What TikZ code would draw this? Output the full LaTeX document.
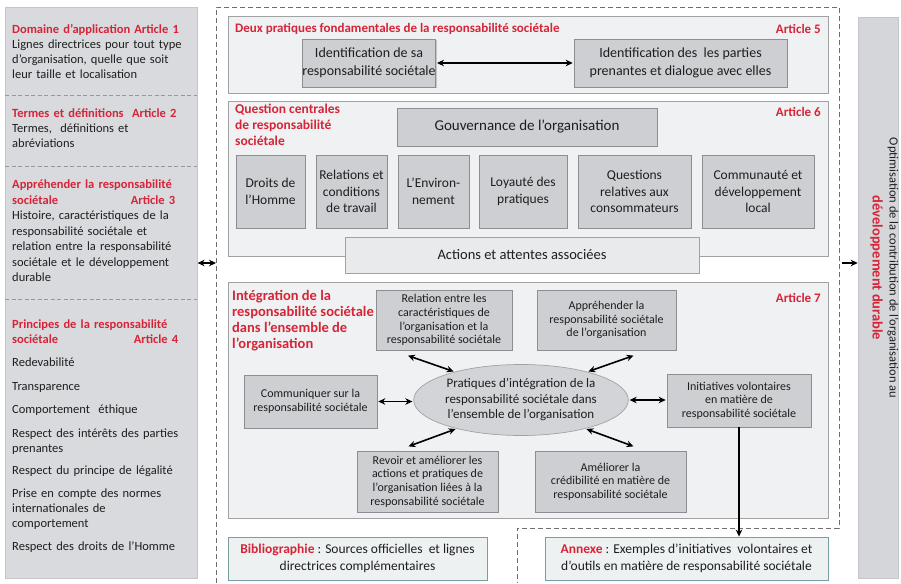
\documentclass[tikz,border=0pt]{standalone}
\usepackage{fontspec}
\setmainfont{Carlito}
\usetikzlibrary{arrows.meta,shapes.geometric,shadows}
\definecolor{isored}{RGB}{214,36,56}
\definecolor{lpfill}{RGB}{216,218,221}
\definecolor{lpline}{RGB}{196,198,201}
\definecolor{secfill}{RGB}{240,241,242}
\definecolor{secline}{RGB}{160,162,164}
\definecolor{boxfill}{RGB}{205,207,210}
\definecolor{boxline}{RGB}{140,142,145}
\definecolor{ellfill}{RGB}{210,212,215}
\definecolor{tealline}{RGB}{118,160,160}
\definecolor{reffill}{RGB}{238,241,241}
\definecolor{framegray}{RGB}{110,110,110}
\definecolor{sepgray}{RGB}{150,152,155}
\definecolor{barfill}{RGB}{212,214,217}
\definecolor{txt}{RGB}{30,30,30}
\tikzset{
  every node/.style={inner sep=0pt, text=txt},
  lpanel/.style={draw=lpline, fill=lpfill, line width=0.6pt},
  sect/.style={draw=secline, fill=secfill, line width=0.8pt},
  gbox/.style={draw=boxline, fill=boxfill, line width=0.6pt, align=center,
    drop shadow={shadow xshift=1.2pt, shadow yshift=-1.2pt, opacity=0.18, fill=black}},
  lbox/.style={draw=secline, fill=secfill!80!boxfill, line width=0.7pt, align=center},
  refbox/.style={draw=tealline, fill=reffill, line width=0.9pt, align=center},
  ttl/.style={text=isored, font=\bfseries\fontsize{13}{16}\selectfont},
  lefttext/.style={anchor=north west, text width=180pt, align=left,
    font=\fontsize{12.5}{15}\selectfont},
  sepline/.style={draw=sepgray, dash pattern=on 4pt off 2.5pt, line width=0.7pt},
  frameline/.style={draw=framegray, dash pattern=on 5pt off 3pt, line width=0.8pt},
  tip/.tip={Stealth[length=7pt,width=6.5pt]},
  dbl/.style={tip-tip, line width=1.6pt, shorten >=1pt, shorten <=1pt},
  sgl/.style={-tip, line width=1.6pt},
  fA/.style={font=\fontsize{14}{18}\selectfont},
  fB/.style={font=\fontsize{13.5}{16.5}\selectfont},
  fC/.style={font=\fontsize{12}{13.6}\selectfont},
}
\begin{document}
\begin{tikzpicture}[x=1pt,y=-1pt]
\useasboundingbox (0,0) rectangle (901,583);
\fill[white] (0,0) rectangle (901,583);

% ---------- left column: articles 1 to 4 ----------
\node[lpanel, anchor=north west, minimum width=192pt, minimum height=571pt] (lp) at (5,7) {};
\draw[sepline] (5,95) -- (197,95);
\draw[sepline] (5,166) -- (197,166);
\draw[sepline] (5,299) -- (197,299);

\node[lefttext] (art1) at (12,24) {\textcolor{isored}{\bfseries Domaine d’application Article 1}\\
Lignes directrices pour tout type\\ d’organisation, quelle que soit\\ leur taille et localisation};
\node[lefttext] (art2) at (12,109) {\textcolor{isored}{\bfseries Termes et définitions\ \ Article 2}\\
Termes,\ \ définitions et\\ abréviations};
\node[lefttext, font=\fontsize{12.5}{15.5}\selectfont] (art3) at (12,180) {\textcolor{isored}{\bfseries Appréhender la responsabilité}\\
\textcolor{isored}{\bfseries\makebox[163pt][l]{sociétale\hfill Article 3}}\\
Histoire, caractéristiques de la\\ responsabilité sociétale et\\ relation entre la responsabilité\\ sociétale et le développement\\ durable};
\node[lefttext] (art4) at (12,320) {\textcolor{isored}{\bfseries Principes de la responsabilité}\\
\textcolor{isored}{\bfseries\makebox[166pt][l]{sociétale\hfill Article 4}}\\[8pt]
Redevabilité\\[8.5pt]
Transparence\\[8.5pt]
Comportement\ \ éthique\\[8.5pt]
Respect des intérêts des parties\\ prenantes\\[7pt]
Respect du principe de légalité\\[8pt]
Prise en compte des normes\\ internationales de\\ comportement\\[8.5pt]
Respect des droits de l’Homme};

% ---------- central dashed frame ----------
\draw[frameline] (216,583) -- (216,7) -- (839,7) -- (839,528) -- (517,528) -- (517,583);
\coordinate (frameW) at (216,263);
\coordinate (frameE) at (839,263);

% ---------- article 5 ----------
\node[sect, minimum width=600pt, minimum height=77pt] (s5) at (528,54.5) {};
\node[ttl, anchor=west] (t5) at (235,29) {Deux pratiques fondamentales de la responsabilité sociétale};
\node[ttl, anchor=east] (a5) at (821,29) {Article 5};
\node[gbox, fA, minimum width=122pt, minimum height=48pt] (id1) at (369,63)
  {Identification de sa\\ responsabilité sociétale};
\node[gbox, fA, minimum width=213pt, minimum height=48pt] (id2) at (680.5,63)
  {Identification des\ \ les parties\\ prenantes et dialogue avec elles};
\draw[dbl] (id1.east) -- (id2.west);

% ---------- article 6 ----------
\node[sect, minimum width=600pt, minimum height=155pt] (s6) at (528,178.5) {};
\node[ttl, anchor=north west, align=left, font=\bfseries\fontsize{13.5}{16}\selectfont] (t6) at (235,104)
  {Question centrales\\ de responsabilité\\ sociétale};
\node[ttl, anchor=east] (a6) at (821,112) {Article 6};
\node[gbox, font=\fontsize{15}{18}\selectfont, minimum width=260pt, minimum height=38pt] (gov) at (527,127)
  {Gouvernance de l’organisation};
\node[gbox, fB, minimum width=69pt, minimum height=73pt] (dh) at (270.5,191.5) {Droits de\\ l’Homme};
\node[gbox, fB, minimum width=71pt, minimum height=73pt] (rt) at (351.5,191.5) {Relations et\\ conditions\\ de travail};
\node[gbox, fB, minimum width=71pt, minimum height=73pt] (env) at (433.5,191.5) {L’Environ-\\ nement};
\node[gbox, fB, minimum width=88pt, minimum height=73pt] (loy) at (523,191.5) {Loyauté des\\ pratiques};
\node[gbox, fB, minimum width=113pt, minimum height=73pt] (qc) at (634.5,191.5) {Questions\\ relatives aux\\ consommateurs};
\node[gbox, fB, minimum width=112pt, minimum height=73pt] (cdl) at (758,191.5) {Communauté et\\ développement\\ local};
\node[lbox, font=\fontsize{14.5}{18}\selectfont, minimum width=354pt, minimum height=36pt] (act) at (522,255)
  {Actions et attentes associées};

% ---------- article 7 ----------
\node[sect, minimum width=600pt, minimum height=236pt] (s7) at (528,400) {};
\node[ttl, anchor=north west, align=left, font=\bfseries\fontsize{14.5}{16}\selectfont] (t7) at (232,290)
  {Intégration de la\\ responsabilité sociétale\\ dans l’ensemble de\\ l’organisation};
\node[ttl, anchor=east] (a7) at (821,298) {Article 7};
\node[gbox, fC, minimum width=136pt, minimum height=60pt] (rel) at (444,320)
  {Relation entre les\\ caractéristiques de\\ l’organisation et la\\ responsabilité sociétale};
\node[gbox, fC, minimum width=139pt, minimum height=60pt] (appr) at (606.5,320)
  {Appréhender la\\ responsabilité sociétale\\ de l’organisation};
\node[gbox, fC, minimum width=133pt, minimum height=53pt] (comm) at (310.5,401.5)
  {Communiquer sur la\\ responsabilité sociétale};
\node[ellipse, draw=secline, fill=ellfill, line width=0.7pt, align=center,
  font=\fontsize{13}{15.5}\selectfont, minimum width=202pt, minimum height=71pt] (ell) at (521,400)
  {Pratiques d’intégration de la\\ responsabilité sociétale dans\\ l’ensemble de l’organisation};
\node[gbox, fC, minimum width=144pt, minimum height=53pt] (init) at (739,400.5)
  {Initiatives volontaires\\ en matière de\\ responsabilité sociétale};
\node[gbox, fC, minimum width=141pt, minimum height=61pt] (rev) at (427.5,481.5)
  {Revoir et améliorer les\\ actions et pratiques de\\ l’organisation liées à la\\ responsabilité sociétale};
\node[gbox, fC, minimum width=151pt, minimum height=61pt] (amel) at (610.5,481.5)
  {Améliorer la\\ crédibilité en matière de\\ responsabilité sociétale};

\draw[dbl] ([xshift=-37pt,yshift=-5pt]rel.south) -- (ell.157);
\draw[dbl] ([xshift=28pt,yshift=-5pt]appr.south) -- (ell.23);
\draw[dbl] (comm.east) -- (comm.east -| ell.west);
\draw[dbl] (ell.east) -- (ell.east -| init.west);
\draw[dbl] ([xshift=-20pt,yshift=4pt]rev.north) -- (ell.204);
\draw[dbl] ([xshift=24pt,yshift=4pt]amel.north) -- (ell.336);

% ---------- references ----------
\node[refbox, font=\fontsize{13.5}{17}\selectfont, minimum width=259pt, minimum height=43pt] (bib) at (357.5,558.5)
  {\textcolor{isored}{\bfseries Bibliographie} : Sources officielles\ \ et lignes\\ directrices complémentaires};
\node[refbox, font=\fontsize{13.5}{17}\selectfont, minimum width=283pt, minimum height=43pt] (anx) at (686.5,558.5)
  {\textcolor{isored}{\bfseries Annexe} : Exemples d’initiatives\ \ volontaires et\\ d’outils en matière de responsabilité sociétale};
\draw[sgl] (init.south) -- (init.south |- anx.north);

% ---------- right column ----------
\node[draw=lpline, fill=barfill, line width=0.6pt, minimum width=40pt, minimum height=561pt] (rb) at (878,297.5) {};
\node[rotate=-90, align=center, font=\fontsize{12.5}{17}\selectfont] (rbt) at (884.5,268)
  {Optimisation de la contribution de l’organisation au\\
   \textcolor{isored}{\bfseries\fontsize{14.5}{17}\selectfont développement durable}};

% ---------- links to the side columns ----------
\draw[dbl, shorten <=0pt, shorten >=0pt] (lp.east |- frameW) -- (frameW);
\draw[sgl, shorten <=3pt] (frameE) -- (rb.west |- frameE);
\end{tikzpicture}
\end{document}
